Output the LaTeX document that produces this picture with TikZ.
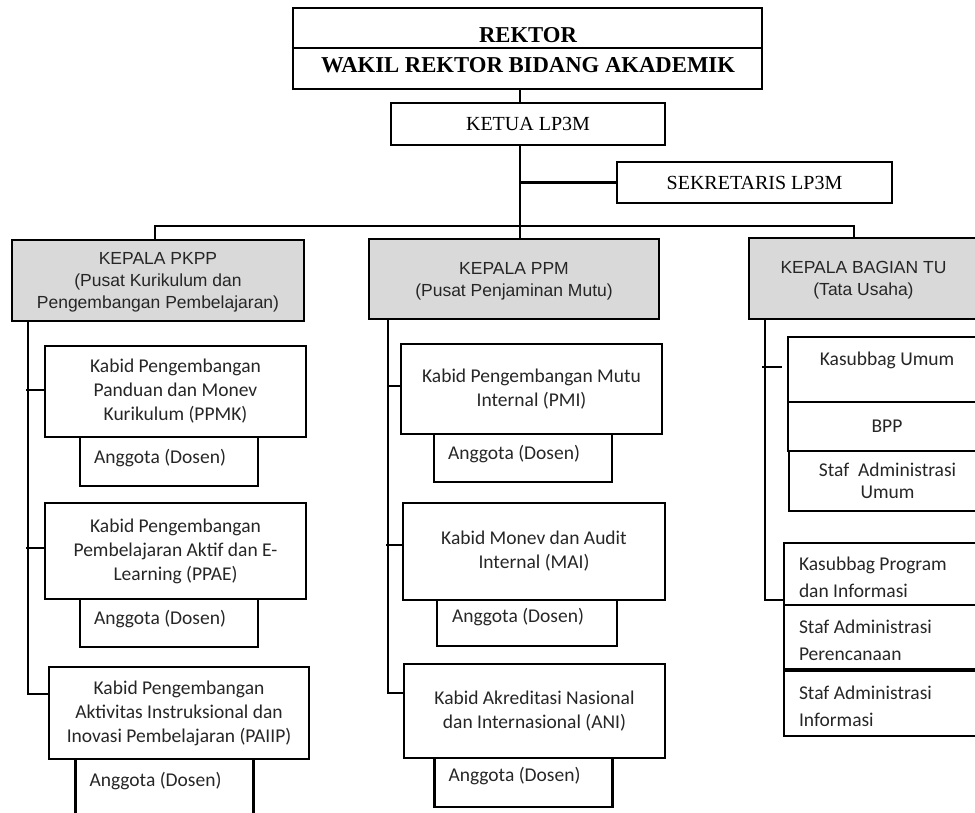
\documentclass[tikz,border=0pt]{standalone}
\usepackage{fontspec}
\setmainfont{Liberation Serif}
\newfontfamily\headfont{Liberation Sans}
\newfontfamily\unitfont{Carlito}
\begin{document}
\begin{tikzpicture}[x=1pt,y=-1pt,
  orgbox/.style={draw, line width=2.4pt, inner sep=0pt, align=center},
  orglink/.style={line width=2.4pt},
  orghead/.style={orgbox, fill=black!15, text=black!85, text depth=-3.5pt,
    font=\headfont\fontsize{17.5}{22}\selectfont},
  orgtop/.style={orgbox, font=\fontsize{20}{24}\selectfont},
  orgunit/.style={orgbox, text=black!85,
    font=\unitfont\fontsize{19.5}{24}\selectfont},
  orgmember/.style={orgbox, text=black!85, text depth=11pt,
    font=\unitfont\fontsize{19.5}{24}\selectfont,
    align=flush left, inner xsep=14pt, text width=150pt},
  orgstaff/.style={orgbox, text=black!85, text depth=21pt,
    font=\unitfont\fontsize{19.5}{27}\selectfont,
    align=flush left, inner xsep=15pt, text width=176pt},
  toplabel/.style={font=\bfseries\fontsize{22.7}{27}\selectfont, inner sep=0pt},
]
\useasboundingbox (0,0) rectangle (975,812);

% ---------- leadership ----------
\node[orgbox, line width=2.6pt, minimum width=469pt, minimum height=81pt] (rektor) at (527.5,48.5) {};
\node[toplabel] (rektorlbl) at (528,35) {REKTOR};
\node[toplabel] (wakillbl) at (528,65.5) {WAKIL REKTOR BIDANG AKADEMIK};
\coordinate (divider) at (0,48);
\draw[line width=1.2pt] (rektor.west |- divider) -- (rektor.east |- divider);

\node[orgtop, minimum width=274pt, minimum height=42pt] (ketua) at (528,124) {KETUA LP3M};
\node[orgtop, minimum width=275pt, minimum height=41pt] (sekretaris) at (754.5,182.5) {SEKRETARIS LP3M};

% ---------- centre heads ----------
\node[orghead, text depth=-5pt, minimum width=292pt, minimum height=81pt] (pkpp) at (158,280.5)
  {KEPALA PKPP\\(Pusat Kurikulum dan\\Pengembangan Pembelajaran)};
\node[orghead, minimum width=290pt, minimum height=80pt] (ppm) at (514,279)
  {KEPALA PPM\\(Pusat Penjaminan Mutu)};
\node[orghead, minimum width=229pt, minimum height=81pt] (tu) at (863.5,278.5)
  {KEPALA BAGIAN TU\\(Tata Usaha)};

% ---------- PKPP units ----------
\node[orgunit, minimum width=261pt, minimum height=91pt] (ppmk) at (175.5,391.5)
  {Kabid Pengembangan\\Panduan dan Monev\\Kurikulum (PPMK)};
\node[orgmember, minimum height=49pt] (angL1) at (169,461.5) {Anggota (Dosen)};
\node[orgunit, minimum width=261pt, minimum height=96pt] (ppae) at (175.5,551)
  {Kabid Pengembangan\\Pembelajaran Aktif dan E-\\Learning (PPAE)};
\node[orgmember, minimum height=48pt] (angL2) at (169,623) {Anggota (Dosen)};
\node[orgunit, minimum width=260pt, minimum height=92pt] (paiip) at (179,713)
  {Kabid Pengembangan\\Aktivitas Instruksional dan\\Inovasi Pembelajaran (PAIIP)};
\node[orgmember, minimum height=60pt, text depth=19pt] (angL3) at (164.5,789) {Anggota (Dosen)};

% ---------- PPM units ----------
\node[orgunit, minimum width=261pt, minimum height=90pt] (pmi) at (531.5,389)
  {Kabid Pengembangan Mutu\\Internal (PMI)};
\node[orgmember, minimum height=48pt] (angM1) at (523,458) {Anggota (Dosen)};
\node[orgunit, minimum width=262pt, minimum height=97pt] (mai) at (534,551.5)
  {Kabid Monev dan Audit\\Internal (MAI)};
\node[orgmember, text depth=16pt, minimum width=180pt, minimum height=46pt] (angM2) at (527,623) {Anggota (Dosen)};
\node[orgunit, minimum width=261pt, minimum height=94pt] (ani) at (534.5,711)
  {Kabid Akreditasi Nasional\\dan Internasional (ANI)};
\node[orgmember, text depth=16pt, minimum height=49pt] (angM3) at (523.5,782.5) {Anggota (Dosen)};

% ---------- TU units ----------
\node[orgunit, minimum width=198pt, minimum height=65pt, text depth=21pt] (kumum) at (887,369.5) {Kasubbag Umum};
\node[orgunit, minimum width=198pt, minimum height=49pt] (bpp) at (887,426.5) {BPP};
\node[orgunit, font=\unitfont\fontsize{19.5}{22}\selectfont, text depth=-4pt,
  minimum width=197pt, minimum height=60pt] (stafumum) at (887.5,481)
  {Staf~ Administrasi\\Umum};
\node[orgstaff, minimum height=62pt] (kprog) at (887,574) {Kasubbag Program\\dan Informasi};
\node[orgstaff, minimum height=64pt] (stafren) at (887,637) {Staf Administrasi\\Perencanaan};
\node[orgstaff, minimum height=65pt] (stafinfo) at (887,703.5) {Staf Administrasi\\Informasi};

% ---------- connectors: top ----------
\coordinate (trunk) at (520,0);
\draw[orglink] (rektor.south -| trunk) -- (ketua.north -| trunk);
\draw[orglink] (ketua.south -| trunk) -- (ppm.north -| trunk);
\draw[orglink] (trunk |- sekretaris.west) -- (sekretaris.west);
\coordinate (barleft) at (155,226);
\coordinate (barright) at (854,226);
\draw[orglink] (pkpp.north -| barleft) -- (barleft) -- (barright) -- (tu.north -| barright);

% ---------- connectors: PKPP ----------
\coordinate (lspine) at (28,694);
\draw[orglink] (lspine |- pkpp.south) -- (lspine) -- (lspine -| paiip.west);
\coordinate (ltickA) at (26,390);
\coordinate (ltickB) at (26,548);
\draw[orglink] (ltickA) -- (ltickA -| ppmk.west);
\draw[orglink] (ltickB) -- (ltickB -| ppae.west);

% ---------- connectors: PPM ----------
\coordinate (mspine) at (388,693);
\draw[orglink] (mspine |- ppm.south) -- (mspine) -- (mspine -| ani.west);
\coordinate (mtickA) at (388,386);
\coordinate (mtickB) at (386,545);
\draw[orglink] (mtickA) -- (mtickA -| pmi.west);
\draw[orglink] (mtickB) -- (mtickB -| mai.west);

% ---------- connectors: TU ----------
\coordinate (rspine) at (765,600);
\draw[orglink] (rspine |- tu.south) -- (rspine) -- (rspine -| kprog.west);
\coordinate (rtickA) at (762,367);
\coordinate (rtickB) at (782,367);
\draw[orglink] (rtickA) -- (rtickB);
\end{tikzpicture}
\end{document}
